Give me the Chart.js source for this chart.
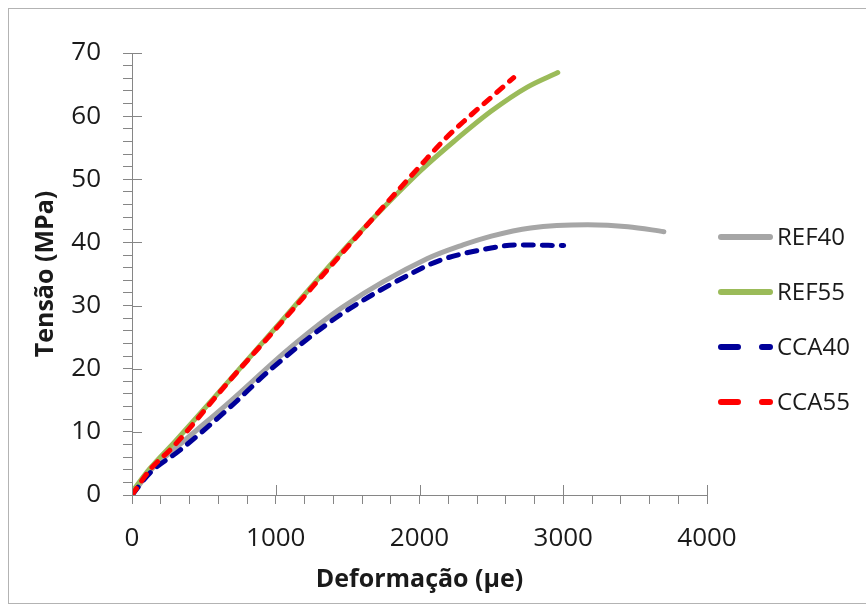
<!DOCTYPE html>
<html>
<head>
<meta charset="utf-8">
<script src="https://cdn.jsdelivr.net/npm/chart.js@4"></script>
<style>
  html, body { margin: 0; padding: 0; background: #fff; }
  #wrap { width: 866px; height: 608px; }
</style>
</head>
<body>
<div id="wrap"><canvas id="chart"></canvas></div>
<script>
// values (deformação in µe, tensão in MPa)
const seriesNames = ['REF40', 'REF55', 'CCA40', 'CCA55'];

const ref40X = [0, 125, 334, 682, 1099, 1468, 2052, 2303, 2500, 2773, 3170, 3450, 3700];
const ref40Y = [0, 3.8, 8.0, 14.8, 23.3, 29.8, 37.4, 39.6, 41.0, 42.3, 42.8, 42.5, 41.7];

const ref55X = [0, 125, 300, 1000, 1500, 2000, 2250, 2500, 2750, 2962];
const ref55Y = [0.5, 4.2, 8.5, 26.5, 39.5, 51.2, 56.2, 60.8, 64.6, 66.9];

const cca40X = [0, 125, 334, 682, 960, 1447, 2024, 2146, 2425, 2683, 3003];
const cca40Y = [0, 3.5, 7.1, 13.9, 19.8, 28.5, 36.0, 37.2, 38.8, 39.6, 39.5];

const cca55X = [0, 125, 285, 682, 1000, 1500, 2000, 2191, 2334, 2500, 2655];
const cca55Y = [0, 4.0, 7.6, 18.2, 26.3, 39.3, 52.0, 56.7, 59.7, 63.0, 66.1];

const xTicks = [0, 1000, 2000, 3000, 4000];
const yTicks = [0, 10, 20, 30, 40, 50, 60, 70];

function pts(xs, ys) {
  return xs.map((x, i) => ({ x: x, y: ys[i] }));
}

const axisGrey = '#868686';

// white background + outer frame
const frame = {
  id: 'frame',
  beforeDraw(chart) {
    const c = chart.ctx;
    c.save();
    c.fillStyle = '#fff';
    c.fillRect(0, 0, chart.width, chart.height);
    c.strokeStyle = '#b3b3b3';
    c.lineWidth = 1;
    c.strokeRect(8.5, 8.5, chart.width + 10, 595);
    c.restore();
  }
};

// major ticks also cross into the plot area
const majorTicks = {
  id: 'majorTicks',
  afterDraw(chart) {
    const c = chart.ctx;
    const xs = chart.scales.x, ys = chart.scales.y;
    c.save();
    c.strokeStyle = axisGrey;
    c.lineWidth = 1;
    c.beginPath();
    xTicks.forEach(v => {
      const px = Math.round(xs.getPixelForValue(v)) + 0.5;
      c.moveTo(px, ys.bottom);
      c.lineTo(px, ys.bottom - 10);
    });
    yTicks.forEach(v => {
      const py = Math.round(ys.getPixelForValue(v)) + 0.5;
      c.moveTo(xs.left, py);
      c.lineTo(xs.left + 10, py);
    });
    c.stroke();
    c.restore();
  }
};

// legend on the right, Excel style
const sideLegend = {
  id: 'sideLegend',
  afterDraw(chart) {
    const c = chart.ctx;
    const area = chart.chartArea;
    const x0 = area.right + 14;
    c.save();
    c.font = '24px "Open Sans"';
    c.textBaseline = 'middle';
    chart.data.datasets.forEach((ds, i) => {
      const y = 237 + i * 55;
      c.strokeStyle = ds.borderColor;
      c.lineWidth = 6;
      c.lineCap = 'round';
      c.setLineDash(ds.borderDash ? [17, 24] : []);
      c.beginPath();
      c.moveTo(x0, y);
      c.lineTo(x0 + 49, y);
      c.stroke();
      c.setLineDash([]);
      c.fillStyle = '#1a1a1a';
      c.fillText(ds.label, x0 + 56, y + 1);
    });
    c.restore();
  }
};

new Chart(document.getElementById('chart'), {
  type: 'scatter',
  data: {
    datasets: [
      { label: seriesNames[0], data: pts(ref40X, ref40Y), borderColor: '#a6a6a6', order: 4 },
      { label: seriesNames[1], data: pts(ref55X, ref55Y), borderColor: '#9bbb59', order: 3 },
      { label: seriesNames[2], data: pts(cca40X, cca40Y), borderColor: '#000099', borderDash: [10, 9], order: 2 },
      { label: seriesNames[3], data: pts(cca55X, cca55Y), borderColor: '#ff0000', borderDash: [8, 9], order: 1 }
    ].map(d => Object.assign(d, {
      showLine: true,
      borderWidth: 5,
      borderCapStyle: 'round',
      borderJoinStyle: 'round',
      pointRadius: 0,
      pointHoverRadius: 0,
      cubicInterpolationMode: 'monotone',
      fill: false
    }))
  },
  options: {
    responsive: true,
    maintainAspectRatio: false,
    animation: false,
    events: [],
    layout: { padding: { left: 0, top: 53, right: 159, bottom: 0 } },
    plugins: { legend: { display: false }, tooltip: { enabled: false } },
    scales: {
      x: {
        type: 'linear',
        min: 0, max: 4000,
        afterFit(s) { s.height = 113; },
        border: { display: true, color: axisGrey, width: 1 },
        grid: { drawOnChartArea: false, tickLength: 9, color: axisGrey, tickColor: axisGrey },
        ticks: {
          stepSize: 200,
          padding: 19,
          color: '#1a1a1a',
          font: { family: 'Open Sans', size: 26 },
          maxRotation: 0,
          autoSkip: false,
          callback: v => (xTicks.includes(v) ? String(v) : '')
        },
        title: {
          display: true,
          text: 'Deformação (μe)',
          color: '#1a1a1a',
          font: { family: 'Open Sans', size: 25, weight: 'bold', lineHeight: 1.2 },
          padding: { top: 0, bottom: 13 }
        }
      },
      y: {
        type: 'linear',
        min: 0, max: 70,
        afterFit(s) { s.width = 132; },
        border: { display: true, color: axisGrey, width: 1 },
        grid: { drawOnChartArea: false, tickLength: 9, color: axisGrey, tickColor: axisGrey },
        ticks: {
          stepSize: 2,
          padding: 22,
          color: '#1a1a1a',
          font: { family: 'Open Sans', size: 26 },
          autoSkip: false,
          callback: v => (yTicks.includes(v) ? String(v) : '')
        },
        title: {
          display: true,
          text: 'Tensão (MPa)',
          color: '#1a1a1a',
          font: { family: 'Open Sans', size: 25, weight: 'bold', lineHeight: 1.2 },
          padding: { top: 31, bottom: 0 }
        }
      }
    }
  },
  plugins: [frame, majorTicks, sideLegend]
});
</script>
</body>
</html>
